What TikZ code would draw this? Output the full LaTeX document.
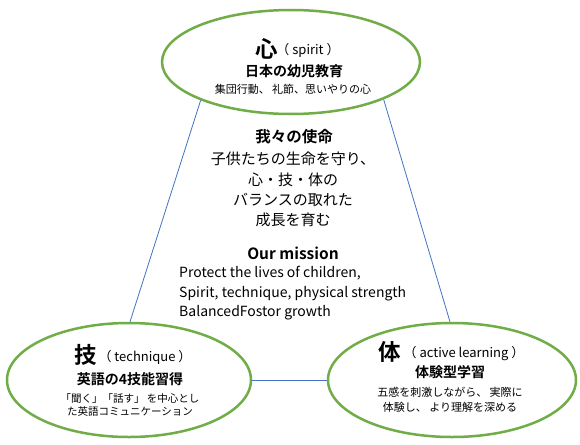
\documentclass[tikz,border=0pt]{standalone}
\usepackage{fontspec}
\setmainfont{Noto Sans CJK JP}[BoldFont={Noto Sans CJK JP Bold}]
\usetikzlibrary{shapes.geometric}
\definecolor{ringgreen}{HTML}{70AD47}
\definecolor{linkblue}{HTML}{4472C4}
\begin{document}
\begin{tikzpicture}[x=1pt,y=-1pt,
  ring/.style={ellipse, draw=ringgreen, line width=2.5pt, inner sep=0pt, fill=white},
  link/.style={draw=linkblue, line width=0.8pt},
  bigchar/.style={font=\fontsize{22.5}{24}\selectfont\bfseries, inner sep=0pt},
  tag/.style={font=\fontsize{13}{15}\selectfont, inner sep=0pt},
  subhead/.style={font=\fontsize{14}{16}\selectfont\bfseries, inner sep=0pt},
  small/.style={font=\fontsize{11}{13}\selectfont, inner sep=0pt},
  mission/.style={font=\fontsize{15}{20}\selectfont, inner sep=0pt},
  missionhead/.style={font=\fontsize{15.5}{17}\selectfont\bfseries, inner sep=0pt},
  english/.style={font=\fontsize{14}{19.5}\selectfont, inner sep=0pt, align=left}]
\useasboundingbox (0,0) rectangle (580,444);
\fill[white] (0,0) rectangle (580,444);
% ellipses
\node[ring, minimum width=258pt, minimum height=104pt] (top) at (291,62) {};
\node[ring, minimum width=244pt, minimum height=114pt] (left) at (129,380) {};
\node[ring, minimum width=248pt, minimum height=114pt] (right) at (452,380) {};
% connectors
\draw[link] (top.203) -- (left.89);
\draw[link] (top.338) -- (right.92);
\draw[link] (left.0) -- (right.180);
% top texts
\node[bigchar] (topchar) at (267,49) {心};
\node[tag] (toptag) at (308,50) {（ spirit ）};
\node[subhead] (topsub) at (294,71) {日本の幼児教育};
\node[small] (topdesc) at (293,89) {集団行動、 礼節、思いやりの心};
% mission
\node[missionhead] (mhead) at (294,137) {我々の使命};
\node[mission] (m1) at (293,159) {子供たちの生命を守り、};
\node[mission] (m2) at (293,180) {心・技・体の};
\node[mission] (m3) at (293,200) {バランスの取れた};
\node[mission] (m4) at (293,220) {成長を育む};
\node[missionhead] (ehead) at (293,253) {Our mission};
\node[english, anchor=north west] (etext) at (179,266) {Protect the lives of children,\\Spirit, technique, physical strength\\BalancedFostor growth};
% left texts
\node[bigchar] (leftchar) at (86,355) {技};
\node[tag] (lefttag) at (145,357) {（ technique ）};
\node[subhead] (leftsub) at (130,379) {英語の4技能習得};
\node[font=\fontsize{10.5}{12}\selectfont, inner sep=0pt] (leftd1) at (130,399) {「聞く」「話す」 を中心とし};
\node[font=\fontsize{10.5}{12}\selectfont, inner sep=0pt] (leftd2) at (130,412) {た英語コミュニケーション};
% right texts
\node[bigchar] (rightchar) at (390,352) {体};
\node[tag] (righttag) at (464,354) {（ active learning ）};
\node[subhead] (rightsub) at (450,372) {体験型学習};
\node[small] (rightd1) at (450,392) {五感を刺激しながら、 実際に};
\node[small] (rightd2) at (450,407) {体験し、 より理解を深める};
\end{tikzpicture}
\end{document}
